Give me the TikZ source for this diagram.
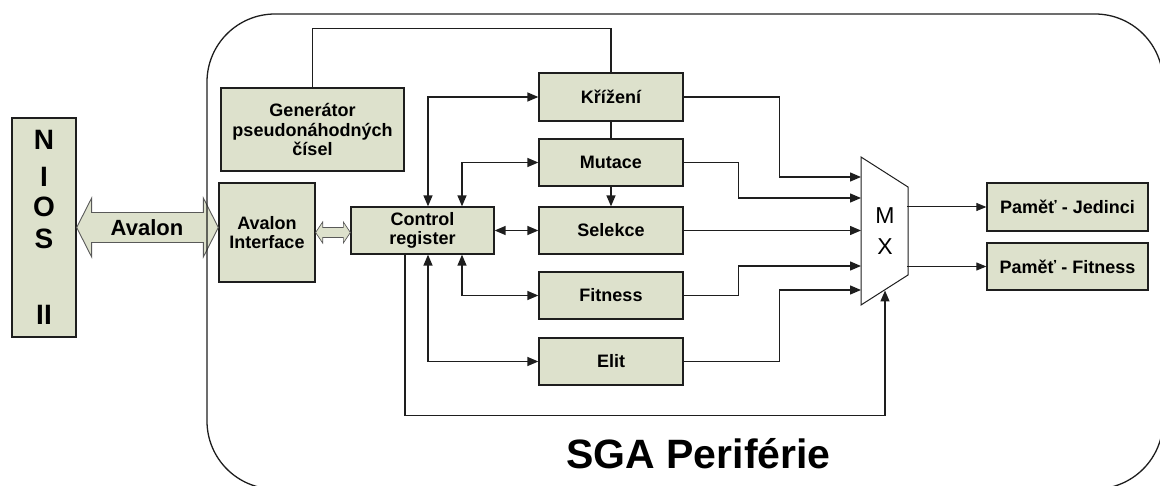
\documentclass[tikz,border=0pt]{standalone}
\usepackage{fontspec}
\setmainfont{Liberation Sans}
\usetikzlibrary{arrows.meta,calc}
\definecolor{boxfill}{RGB}{221,225,204}
\definecolor{boxline}{RGB}{30,30,30}
\begin{document}
\begin{tikzpicture}[x=1pt,y=-1pt,
  box/.style={draw=boxline,line width=1.3pt,fill=boxfill,inner sep=0pt,align=center,
    font=\bfseries\fontsize{18}{19.5}\selectfont},
  conn/.style={line width=1.4pt,draw=boxline},
  arr/.style={conn,-{Triangle[length=11pt,width=9pt]}},
  darr/.style={conn,{Triangle[length=11pt,width=9pt]}-{Triangle[length=11pt,width=9pt]}},
  arrt/.style={line width=1pt,draw=boxline,-{Triangle[length=10pt,width=8pt]}},
  blk/.style={draw=black!65,line width=0.9pt,fill=boxfill}]
\useasboundingbox (0,0) rectangle (1160,486);
\clip (0,0) rectangle (1160,486);

% nodes
\node[box,minimum width=64pt,minimum height=219pt,font=\bfseries\fontsize{28}{30}\selectfont] (nios) at (44,227.5) {N\\[7pt]I\\O\\[2pt]S\\[46pt]II};
\node[box,minimum width=183pt,minimum height=83pt] (gen) at (312.5,129.5) {Generátor\\pseudonáhodných\\čísel};
\node[box,minimum width=96pt,minimum height=99pt] (ai) at (267,232.5) {Avalon\\Interface};
\node[box,minimum width=143pt,minimum height=47pt] (cr) at (422.5,230.5) {Control\\register};
\node[box,minimum width=144pt,minimum height=48pt] (kr) at (611,97) {Křížení};
\node[box,minimum width=144pt,minimum height=47pt] (mu) at (611,162.5) {Mutace};
\node[box,minimum width=144pt,minimum height=47pt] (se) at (611,230.5) {Selekce};
\node[box,minimum width=144pt,minimum height=47pt] (fi) at (611,295.5) {Fitness};
\node[box,minimum width=144pt,minimum height=47pt] (el) at (611,361.5) {Elit};
\node[box,minimum width=161pt,minimum height=48pt] (pj) at (1067.5,207) {Paměť - Jedinci};
\node[box,minimum width=161pt,minimum height=47pt] (pf) at (1067.5,266.5) {Paměť - Fitness};

% multiplexer
\draw[line width=1pt,draw=boxline,fill=white] (861,157) -- (908,187) -- (908,275) -- (861,305) -- cycle;
\node[align=center,font=\fontsize{23}{31}\selectfont,inner sep=0pt] (mx) at (885,231.5) {M\\X};
\coordinate (in1) at (861,177);
\coordinate (in2) at (861,198);
\coordinate (in3) at (861,230.5);
\coordinate (in4) at (861,266);
\coordinate (in5) at (861,290);
\coordinate (inb) at (885,290.5);
\coordinate (out1) at (907,207);
\coordinate (out2) at (907,266.5);
\coordinate (xa) at (428,0);
\coordinate (xb) at (462,0);
\coordinate (xc) at (405,0);

% block arrows
\draw[blk] (nios.east) -- ++(15,-29.5) -- ++(0,14.5) -- ($(ai.west |- nios.east)+(-15,-15)$) -- ++(0,-14.5)
  -- (ai.west |- nios.east) -- ++(-15,29.5) -- ++(0,-14.5) -- ($(nios.east)+(15,15)$) -- ++(0,14.5) -- cycle;
\node[font=\bfseries\fontsize{22}{24}\selectfont,inner sep=0pt] (avl) at (147,227.5) {Avalon};
\draw[blk,line width=0.7pt] (ai.east) -- ++(7,-10.5) -- ++(0,5.5) -- ($(cr.west |- ai.east)+(-7,-5)$) -- ++(0,-5.5)
  -- (cr.west |- ai.east) -- ++(-7,10.5) -- ++(0,-5.5) -- ($(ai.east)+(7,5)$) -- ++(0,5.5) -- cycle;

% connectors
\draw[conn] (gen.north) -- ++(0,-59) -| (kr.north);
\draw[conn] (kr.south) -- (mu.north);
\draw[arr] (mu.south) -- (se.north);
\draw[darr] (cr.north -| xa) |- (kr.west);
\draw[darr] (cr.north -| xb) |- (mu.west);
\draw[darr] (cr.east) -- (se.west);
\draw[darr] (cr.south -| xb) |- (fi.west);
\draw[darr] (cr.south -| xa) |- (el.west);
\draw[arr] (cr.south -| xc) -- ++(0,161) -| (inb);
\draw[arr] (kr.east) -- ++(96,0) |- (in1);
\draw[arr] (mu.east) -- ++(55,0) |- (in2);
\draw[arr] (se.east) -- (in3);
\draw[arr] (fi.east) -- ++(55,0) |- (in4);
\draw[arr] (el.east) -- ++(96,0) |- (in5);
\draw[arrt] (out1) -- (pj.west);
\draw[arrt] (out2) -- (pf.west);

% outer peripheral frame
\draw[line width=1.3pt,draw=boxline,rounded corners=68pt] (207,14) rectangle (1163,489);
\node[font=\bfseries\fontsize{41}{44}\selectfont,anchor=base,inner sep=0pt] (sga) at (698.5,468) {SGA Periférie};
\end{tikzpicture}
\end{document}
